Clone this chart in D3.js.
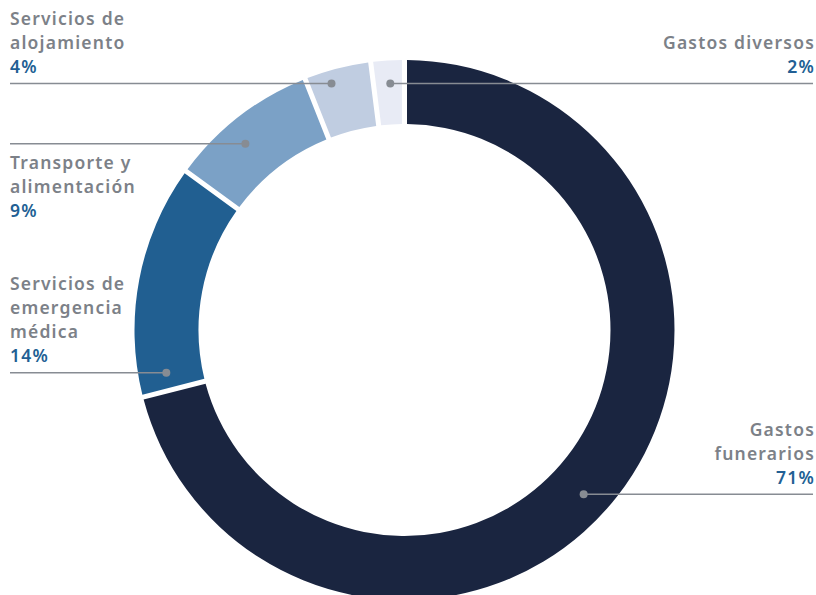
<!DOCTYPE html>
<html><head><meta charset="utf-8">
<script src="https://cdn.jsdelivr.net/npm/d3@7"></script>
<style>
html,body{margin:0;padding:0;background:#fff;}
svg{display:block;}
text{font-family:"Noto Sans",sans-serif;}
</style></head>
<body><svg id="c" width="816" height="595"></svg>
<script>
// ---- data ----
const categories = ["Gastos funerarios","Servicios de emergencia médica","Transporte y alimentación","Servicios de alojamiento","Gastos diversos"];
const values = [71, 14, 9, 4, 2];
const labelLines = [
  ["Gastos","funerarios"],
  ["Servicios de","emergencia","médica"],
  ["Transporte y","alimentación"],
  ["Servicios de","alojamiento"],
  ["Gastos diversos"]
];
const colors = ["#1a2540","#215f91","#7ba1c6","#c0cde1","#e8ebf5"];

// ---- layout (annotation placement) ----
const W = 816, H = 595, cx = 404.5, cy = 330, R = 270, r0 = 206;
// dot polar position (deg clockwise from top, radius), side of label, text placement
const annot = [
  {deg:132.5, rad:243, side:"right", textPos:"above"},
  {deg:259.8, rad:242, side:"left",  textPos:"above"},
  {deg:319.5, rad:245, side:"left",  textPos:"below"},
  {deg:343.5, rad:257, side:"left",  textPos:"above"},
  {deg:356.7, rad:247, side:"right", textPos:"above"}
];

const svg = d3.select("#c");
const g = svg.append("g").attr("transform",`translate(${cx},${cy})`);

const pie = d3.pie().sort(null).value(d=>d);
const arcs = pie(values);
const arc = d3.arc().innerRadius(r0).outerRadius(R).padAngle(5/R).padRadius(R);

g.selectAll("path").data(arcs).join("path")
  .attr("d", arc).attr("fill",(d,i)=>colors[i]);

const lineColor = "#878c93", textColor = "#7c8188", pctColor = "#225f94";
const lh = 24;

annot.forEach((a,i)=>{
  const t = a.deg*Math.PI/180;
  const dx = cx + a.rad*Math.sin(t), dy = cy - a.rad*Math.cos(t);
  const x2 = a.side==="right" ? 813 : 10;
  svg.append("line").attr("x1",dx).attr("y1",dy).attr("x2",x2).attr("y2",dy)
     .attr("stroke",lineColor).attr("stroke-width",1.5);
  svg.append("circle").attr("cx",dx).attr("cy",dy).attr("r",4).attr("fill",lineColor);
  const lines = labelLines[i].map(s=>({s,c:textColor})).concat([{s:values[i]+"%",c:pctColor}]);
  const n = lines.length;
  const anchor = a.side==="right" ? "end" : "start";
  const tx = a.side==="right" ? 815 : 10;
  lines.forEach((L,k)=>{
    let by;
    if (a.textPos==="above") by = dy - 10.5 - (n-1-k)*lh;
    else by = dy + 25 + k*lh;
    svg.append("text").attr("x",tx).attr("y",by).attr("text-anchor",anchor)
      .attr("fill",L.c).attr("font-size",17.5).attr("font-weight",600)
      .attr("letter-spacing",1.2).text(L.s);
  });
});
</script></body></html>
